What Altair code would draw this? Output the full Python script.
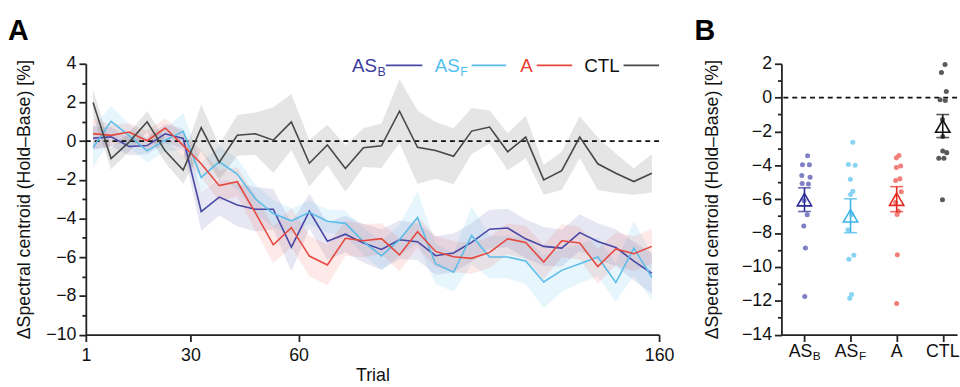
import altair as alt
import pandas as pd

# ---------------- Panel A data (5-trial bins) ----------------
trials = [3, 8, 13, 18, 23, 28, 33, 38, 43, 48, 53, 58, 63, 68, 73, 78,
          83, 88, 93, 98, 103, 108, 113, 118, 123, 128, 133, 138, 143, 148, 153, 158]
series_names = ["ASB", "ASF", "A", "CTL"]

asb_mean = [0.15, 0.22, -0.28, -0.23, 0.38, 0.14, -3.64, -2.89, -3.3, -3.52, -3.52, -5.48,
            -3.62, -5.17, -4.81, -5.27, -5.6, -5.1, -5.2, -5.92, -5.78, -5.23, -4.55, -4.49,
            -5.05, -5.44, -5.53, -4.73, -5.19, -5.5, -6.2, -6.84]
asf_mean = [-0.33, 1.02, 0.28, -0.5, 0.05, 0.51, -1.87, -1.07, -1.7, -2.98, -3.74, -4.12,
            -3.68, -4.14, -4.25, -5.19, -5.93, -5.1, -3.95, -6.34, -6.78, -4.88, -5.99, -5.99,
            -6.2, -7.28, -6.68, -6.34, -5.99, -7.31, -5.53, -7.04]
a_mean = [0.39, 0.3, 0.47, 0.02, 0.68, -0.22, -1.17, -2.3, -2.1, -3.7, -5.36, -4.47,
          -5.94, -6.4, -5.02, -5.15, -5.04, -5.88, -4.68, -5.7, -5.98, -6.06, -5.75, -5.05,
          -5.24, -6.25, -5.15, -5.27, -6.48, -5.57, -5.82, -5.44]
ctl_mean = [2.0, -0.9, -0.05, 1.0, -0.5, -1.5, 0.7, -1.1, 0.3, 0.38, 0.05, 0.99,
            -1.14, -0.2, -1.41, -0.34, -0.24, 1.55, -0.32, -0.48, -0.78, 0.52, 0.73, -0.55,
            0.21, -2.0, -1.53, 0.21, -1.17, -1.66, -2.09, -1.66]

asb_sem = [0.6, 0.5, 0.45, 0.45, 0.5, 0.5, 1.0, 0.95, 1.1, 1.15, 1.05, 1.25,
           0.9, 0.95, 0.95, 1.0, 1.05, 1.0, 0.95, 1.0, 1.0, 1.0, 1.0, 1.0,
           1.0, 1.0, 0.95, 0.95, 0.95, 0.95, 1.0, 1.05]
asf_sem = [1.05, 0.8, 0.6, 0.6, 0.6, 0.95, 0.75, 0.8, 0.8, 0.75, 0.7, 0.65,
           0.6, 0.6, 0.65, 0.7, 0.75, 0.8, 1.35, 1.05, 1.0, 1.5, 1.1, 1.1,
           1.2, 1.35, 1.1, 1.0, 1.0, 1.0, 1.4, 1.2]
a_sem = [0.8, 0.55, 0.45, 0.5, 0.5, 0.6, 0.7, 0.8, 0.75, 0.9, 0.95, 1.0,
         1.05, 1.05, 0.9, 0.85, 0.8, 0.85, 0.8, 0.8, 0.8, 0.8, 0.8, 0.8,
         0.85, 0.9, 0.85, 0.85, 0.9, 0.85, 0.9, 0.9]
ctl_sem = [0.65, 0.55, 0.5, 0.55, 0.6, 0.7, 1.2, 0.9, 1.05, 1.1, 1.7, 1.45,
           1.2, 1.05, 1.2, 1.0, 1.15, 1.65, 1.9, 1.47, 1.45, 1.19, 0.85, 0.96,
           1.1, 0.77, 1.0, 1.08, 1.36, 1.02, 0.68, 1.0]

# ---------------- Panel B data (per participant) ----------------
groups = ["ASB", "ASF", "A", "CTL"]
group_main = ["AS", "AS", "A", "CTL"]
group_sub = ["B", "F", "", ""]
asb_vals = [-3.43, -3.96, -3.96, -4.6, -4.7, -5.07, -5.1, -6.08, -6.92, -7.58, -8.89, -11.75]
asb_jit = [3.2, -2.0, 5.0, -2.7, 5.7, -2.3, 4.0, -0.5, 2.8, -0.7, 1.0, 0.3]
asf_vals = [-2.64, -3.95, -4.0, -4.83, -5.53, -5.72, -6.9, -7.8, -9.31, -9.55, -11.63, -11.86]
asf_jit = [2.3, -2.2, 4.7, -0.2, 2.3, 0.0, 1.2, -2.7, 3.3, -1.7, 1.0, -0.8]
a_vals = [-3.42, -3.56, -4.04, -4.13, -4.8, -4.9, -5.56, -6.2, -6.7, -6.9, -9.28, -12.17]
a_jit = [2.3, -0.3, 4.0, -0.3, 3.3, -1.0, 4.7, -1.0, 1.7, 0.5, 0.7, 0.0]
ctl_vals = [1.95, 1.48, 0.36, -0.13, -0.17, -1.3, -2.3, -3.15, -3.25, -3.58, -3.58, -6.03]
ctl_jit = [2.3, -1.3, 3.6, -2.7, 2.6, -0.3, 0.0, 0.0, 4.0, -4.0, 1.2, -0.3]
group_mean = [-6.03, -6.98, -6.0, -1.68]
group_sem = [0.70, 1.0, 0.74, 0.68]

# ---------------- styles ----------------
FONT = "Liberation Sans"
line_colors = {"ASB": "#4747a5", "ASF": "#5cbde8", "A": "#e6483e", "CTL": "#474747"}
band_opacity = {"ASB": 0.13, "ASF": 0.15, "A": 0.12, "CTL": 0.14}
dot_colors = {"ASB": "#8080c6", "ASF": "#8ad4f3", "A": "#f2807a", "CTL": "#5a5a5a"}
mean_colors = {"ASB": "#2c2c96", "ASF": "#3db5e8", "A": "#e52a20", "CTL": "#111111"}
legend_text_colors = {"ASB": "#3a3a9e", "ASF": "#4fbfee", "A": "#ee3a30", "CTL": "#111111"}

W_A, H = 581, 274.5
W_B = 178
STEP_B = W_B / 3.81
YTITLE = "ΔSpectral centroid (Hold–Base) [%]"
FS = 18

# ---------------- tables ----------------
rowsA = []
for name, m, s in zip(series_names, [asb_mean, asf_mean, a_mean, ctl_mean],
                      [asb_sem, asf_sem, a_sem, ctl_sem]):
    for t, mv, sv in zip(trials, m, s):
        rowsA.append(dict(series=name, trial=t, mean=mv, lo=mv - sv, hi=mv + sv))
dfA = pd.DataFrame(rowsA)
dfA["color"] = dfA["series"].map(line_colors)
dfA["bandop"] = dfA["series"].map(band_opacity)

rowsB = []
for i, (g, vals, jits) in enumerate(zip(groups, [asb_vals, asf_vals, a_vals, ctl_vals],
                                        [asb_jit, asf_jit, a_jit, ctl_jit])):
    for v, j in zip(vals, jits):
        rowsB.append(dict(group=g, idx=i, value=v, xp=i + j / STEP_B))
dfB = pd.DataFrame(rowsB)
dfB["color"] = dfB["group"].map(dot_colors)

dfM = pd.DataFrame(dict(group=groups, idx=list(range(4)), mean=group_mean, sem=group_sem))
dfM["lo"] = dfM["mean"] - dfM["sem"]
dfM["hi"] = dfM["mean"] + dfM["sem"]
dfM["color"] = dfM["group"].map(mean_colors)

dfL = pd.DataFrame(dict(idx=list(range(4)), main=group_main, sub=group_sub))


def y_axis(lo, hi, title_pad):
    vals = [lo + 0.5 * k for k in range(int((hi - lo) * 2) + 1)]
    return alt.Axis(values=vals, format="d",
                    labelExpr="datum.value % 2 == 0 ? datum.label : ''",
                    tickSize={"condition": {"test": "datum.value % 2 == 0", "value": 7}, "value": 4},
                    labelOverlap=False, labelFlush=False, grid=False, title=YTITLE,
                    titlePadding=title_pad, labelPadding=3)


# ---------------- Panel A ----------------
yaxA = y_axis(-10, 4, 13)
xA = alt.X("trial:Q", scale=alt.Scale(domain=[1, 160], nice=False, zero=False),
           axis=alt.Axis(values=[1, 30, 60, 160], tickSize=7, labelPadding=5, grid=False,
                         title="Trial", titlePadding=3, labelFlush=False))
ysc_A = alt.Scale(domain=[-10, 4], nice=False, zero=False)

bands = alt.Chart(dfA).mark_area(interpolate="linear").encode(
    x=xA, y=alt.Y("lo:Q", scale=ysc_A, axis=yaxA), y2="hi:Q",
    color=alt.Color("color:N", scale=None), opacity=alt.Opacity("bandop:Q", scale=None),
    detail="series:N")
zeroA = alt.Chart(pd.DataFrame({"zero": [0]})).mark_rule(
    strokeDash=[5, 4], color="#111", strokeWidth=1.6).encode(
    y=alt.Y("zero:Q", scale=ysc_A, axis=yaxA))
lines = alt.Chart(dfA).mark_line(strokeWidth=1.6).encode(
    x=xA, y=alt.Y("mean:Q", scale=ysc_A, axis=yaxA),
    color=alt.Color("color:N", scale=None), detail="series:N")

legend_layers = []
legend_spec = [  # (main, sub, right edge of main text, line x1, line x2, key)
    ("AS", "B", 295, 304, 341, "ASB"),
    ("AS", "F", 379, 391, 426, "ASF"),
    ("A", "", 453, 457, 493, "A"),
    ("CTL", "", 541, 545, 581, "CTL"),
]
for main, sub, xr, x1, x2, key in legend_spec:
    tc = legend_text_colors[key]
    legend_layers.append(alt.Chart(pd.DataFrame({"t": [main]})).mark_text(
        align="right", baseline="alphabetic", font=FONT, fontSize=19, color=tc).encode(
        x=alt.value(xr), y=alt.value(8.5), text="t:N"))
    if sub:
        legend_layers.append(alt.Chart(pd.DataFrame({"t": [sub]})).mark_text(
            align="left", baseline="alphabetic", font=FONT, fontSize=12.5, color=tc).encode(
            x=alt.value(xr + 0.5), y=alt.value(12.5), text="t:N"))
    legend_layers.append(alt.Chart(pd.DataFrame({"k": [0]})).mark_rule(
        color=line_colors[key], strokeWidth=1.8).encode(
        x=alt.value(x1), x2=alt.value(x2), y=alt.value(1.7)))

letterA = alt.Chart(pd.DataFrame({"t": ["A"]})).mark_text(
    align="left", baseline="alphabetic", font=FONT, fontSize=29, fontWeight="bold").encode(
    x=alt.value(-79), y=alt.value(-24.5), text="t:N")

panelA = alt.layer(bands, zeroA, lines, *legend_layers, letterA).properties(width=W_A, height=H)

# ---------------- Panel B ----------------
ysc_B = alt.Scale(domain=[-14, 2], nice=False, zero=False)
yaxB = y_axis(-14, 2, 20)
xsc_B = alt.Scale(domain=[-0.5, 3.31], nice=False, zero=False)
xaxB = alt.Axis(values=[0, 1, 2, 3], labels=False, title=None, tickSize=7, grid=False)

zeroB = alt.Chart(pd.DataFrame({"zero": [0]})).mark_rule(
    strokeDash=[5, 4], color="#111", strokeWidth=1.6).encode(
    y=alt.Y("zero:Q", scale=ysc_B, axis=yaxB))
dots = alt.Chart(dfB).mark_circle(size=26, opacity=1).encode(
    x=alt.X("xp:Q", scale=xsc_B, axis=xaxB),
    y=alt.Y("value:Q", scale=ysc_B, axis=yaxB),
    color=alt.Color("color:N", scale=None))
xm = alt.X("idx:Q", scale=xsc_B, axis=xaxB)
ebar = alt.Chart(dfM).mark_rule(strokeWidth=1.6).encode(
    x=xm, y=alt.Y("lo:Q", scale=ysc_B, axis=yaxB), y2="hi:Q",
    color=alt.Color("color:N", scale=None))
cap_lo = alt.Chart(dfM).mark_tick(orient="horizontal", size=13, thickness=1.6).encode(
    x=xm, y=alt.Y("lo:Q", scale=ysc_B, axis=yaxB), color=alt.Color("color:N", scale=None))
cap_hi = alt.Chart(dfM).mark_tick(orient="horizontal", size=13, thickness=1.6).encode(
    x=xm, y=alt.Y("hi:Q", scale=ysc_B, axis=yaxB), color=alt.Color("color:N", scale=None))
tri = alt.Chart(dfM).mark_point(shape="triangle-up", filled=False, size=210,
                                strokeWidth=1.6, opacity=1).encode(
    x=xm, y=alt.Y("mean:Q", scale=ysc_B, axis=yaxB), color=alt.Color("color:N", scale=None))

lab_sub_main = alt.Chart(dfL).transform_filter("datum.sub != ''").mark_text(
    align="right", baseline="alphabetic", font=FONT, fontSize=FS, dx=8, color="#111").encode(
    x=xm, y=alt.value(H + 22.5), text="main:N")
lab_sub_sub = alt.Chart(dfL).transform_filter("datum.sub != ''").mark_text(
    align="left", baseline="alphabetic", font=FONT, fontSize=12, dx=8.5, color="#111").encode(
    x=xm, y=alt.value(H + 25.5), text="sub:N")
lab_plain = alt.Chart(dfL).transform_filter("datum.sub == ''").mark_text(
    align="center", baseline="alphabetic", font=FONT, fontSize=FS, color="#111").encode(
    x=xm, y=alt.value(H + 22.5), text="main:N")

letterB = alt.Chart(pd.DataFrame({"t": ["B"]})).mark_text(
    align="left", baseline="alphabetic", font=FONT, fontSize=29, fontWeight="bold").encode(
    x=alt.value(-88), y=alt.value(-24.5), text="t:N")

panelB = alt.layer(zeroB, dots, ebar, cap_lo, cap_hi, tri, lab_sub_main, lab_sub_sub,
                   lab_plain, letterB).properties(width=W_B, height=H)

chart = alt.hconcat(panelA, panelB, spacing=20).properties(
    padding={"left": 8, "top": 14, "right": 0, "bottom": 0},
    background="white"
).configure_view(stroke=None).configure_axis(
    domainColor="#222", domainWidth=1.8, tickColor="#222", tickWidth=1.8,
    labelColor="#111", titleColor="#111", labelFont=FONT, titleFont=FONT,
    labelFontSize=FS, titleFontSize=FS, titleFontWeight="normal"
)

chart.save("out.html", embed_options={"renderer": "svg", "actions": False})
